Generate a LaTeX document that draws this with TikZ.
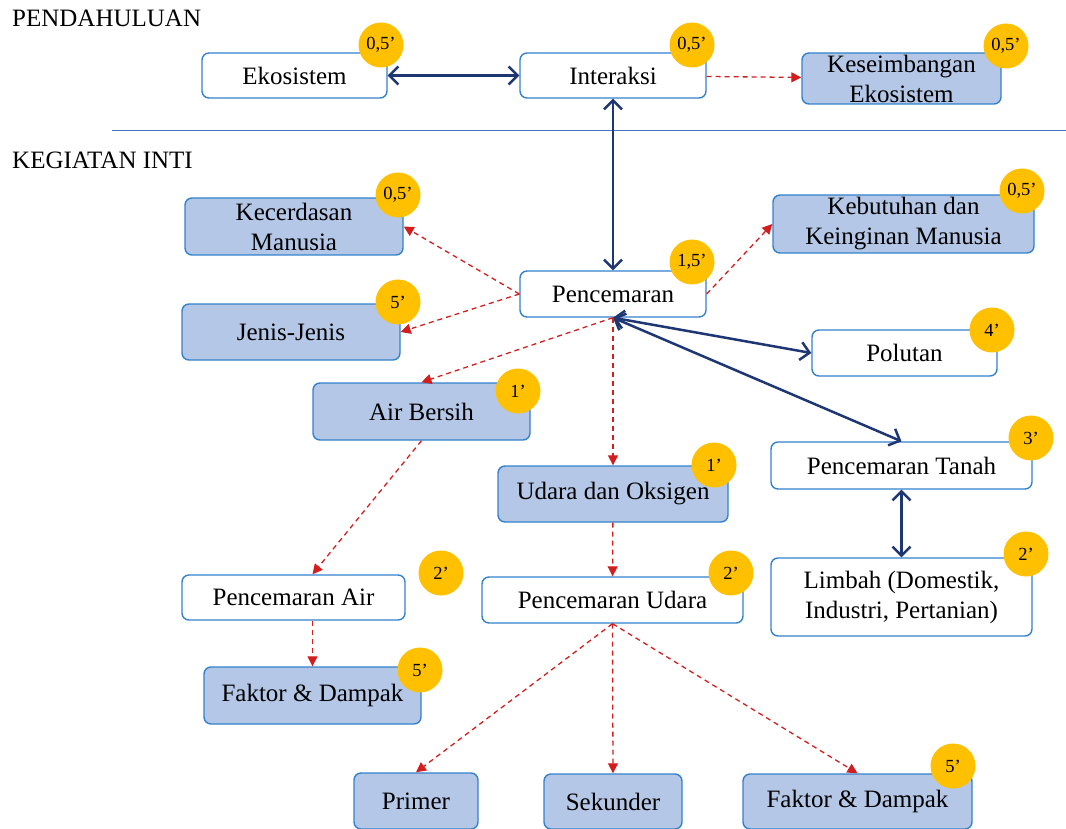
\documentclass[tikz,border=0pt]{standalone}
\usepackage{fontspec}
\setmainfont{Liberation Serif}
\usetikzlibrary{arrows.meta}
\definecolor{boxline}{RGB}{52,130,204}
\definecolor{boxfill}{RGB}{180,199,231}
\definecolor{badgefill}{RGB}{255,192,0}
\definecolor{navy}{RGB}{30,55,115}
\definecolor{redline}{RGB}{210,30,30}
\definecolor{ruleline}{RGB}{68,114,196}

\begin{document}
\begin{tikzpicture}[x=1pt, y=-1pt,
    box/.style={draw=boxline, line width=1.4pt, rounded corners=7pt, fill=white,
        align=center, inner sep=0pt, font=\fontsize{25}{30}\selectfont},
    shaded/.style={box, fill=boxfill},
    badge/.style={circle, fill=badgefill, inner sep=0pt, minimum size=45pt,
        font=\fontsize{18.5}{20}\selectfont},
    title/.style={anchor=west, inner sep=0pt, font=\fontsize{25}{30}\selectfont},
    link/.style={{Straight Barb[length=9pt,width=18pt]}-{Straight Barb[length=9pt,width=18pt]},
        draw=navy, line width=2.5pt},
    sub/.style={-{Triangle[length=10pt,width=10pt]}, draw=redline, line width=1.3pt,
        dash pattern=on 5pt off 4pt}]
    \useasboundingbox (0,0) rectangle (1066,829);

    % sections
    \node[title] (pend) at (12,18) {PENDAHULUAN};
    \node[title] (inti) at (12,160) {KEGIATAN INTI};
    \draw[ruleline, line width=1pt] (112,131) -- (1066,131);

    % boxes
    \node[box, minimum width=185, minimum height=45] (eko) at (294.5,75.5) {Ekosistem};
    \node[box, minimum width=186, minimum height=45] (inter) at (613,75.5) {Interaksi};
    \node[shaded, minimum width=199, minimum height=51] (kes) at (901.5,78.5) {Keseimbangan\\Ekosistem};
    \node[shaded, minimum width=218, minimum height=57] (kec) at (294,226.5) {Kecerdasan\\Manusia};
    \node[shaded, minimum width=261, minimum height=58] (keb) at (903.5,224) {Kebutuhan dan\\Keinginan Manusia};
    \node[box, minimum width=186, minimum height=46] (pen) at (613,294) {Pencemaran};
    \node[shaded, minimum width=218, minimum height=56] (jen) at (291,332) {Jenis-Jenis};
    \node[box, minimum width=185, minimum height=46] (pol) at (904.5,353) {Polutan};
    \node[shaded, minimum width=217, minimum height=57] (air) at (421.5,411.5) {Air Bersih};
    \node[box, minimum width=261, minimum height=47] (tan) at (901.5,465.5) {Pencemaran Tanah};
    \node[shaded, minimum width=230, minimum height=56] (uda) at (613,494) {Udara dan Oksigen};
    \node[box, minimum width=223, minimum height=45] (pair) at (293.5,597.5) {Pencemaran Air};
    \node[box, minimum width=261, minimum height=46] (pud) at (612.5,600) {Pencemaran Udara};
    \node[box, minimum width=261, minimum height=78] (lim) at (901.5,597) {Limbah (Domestik,\\Industri, Pertanian)};
    \node[shaded, minimum width=217, minimum height=57] (fdl) at (312.5,695.5) {Faktor \& Dampak};
    \node[shaded, minimum width=124, minimum height=56] (pri) at (416,801) {Primer};
    \node[shaded, minimum width=138, minimum height=55] (sek) at (613,801.5) {Sekunder};
    \node[shaded, minimum width=229, minimum height=55] (fdr) at (857.5,801.5) {Faktor \& Dampak};

    % connectors
    \draw[link] (eko) -- (inter);
    \draw[link] (inter) -- (pen);
    \draw[link] (pen.south) -- (pol.west);
    \draw[link] (pen.south) -- (tan.north);
    \draw[link] (tan) -- (lim);
    \draw[sub] (inter) -- (kes);
    \draw[sub] (pen.west) -- (kec.east);
    \draw[sub] (pen.west) -- (jen.east);
    \draw[sub] (pen.east) -- (keb.west);
    \draw[sub] (pen.south) -- (air.north);
    \draw[sub] (pen.south) -- (uda.north);
    \draw[sub] (air.south) -- (pair.north -| fdl.north);
    \draw[sub] (pair.south -| fdl.north) -- (fdl.north);
    \draw[sub] (uda) -- (pud);
    \draw[sub] (pud.south) -- (pri.north);
    \draw[sub] (pud.south) -- (sek.north);
    \draw[sub] (pud.south) -- (fdr.north);

    % time badges
    \node[badge] (b-eko) at (381,45) {0,5’};
    \node[badge] (b-inter) at (692,45) {0,5’};
    \node[badge] (b-kes) at (1006,46) {0,5’};
    \node[badge] (b-kec) at (398,195) {0,5’};
    \node[badge] (b-keb) at (1022,191) {0,5’};
    \node[badge] (b-pen) at (692,262) {1,5’};
    \node[badge] (b-jen) at (398,302) {5’};
    \node[badge] (b-pol) at (992,330) {4’};
    \node[badge] (b-air) at (518,391) {1’};
    \node[badge] (b-tan) at (1031,438) {3’};
    \node[badge] (b-uda) at (714,465) {1’};
    \node[badge] (b-pair) at (441,573) {2’};
    \node[badge] (b-pud) at (731,573) {2’};
    \node[badge] (b-lim) at (1026,554) {2’};
    \node[badge] (b-fdl) at (420,670) {5’};
    \node[badge] (b-fdr) at (953,766) {5’};
\end{tikzpicture}
\end{document}
